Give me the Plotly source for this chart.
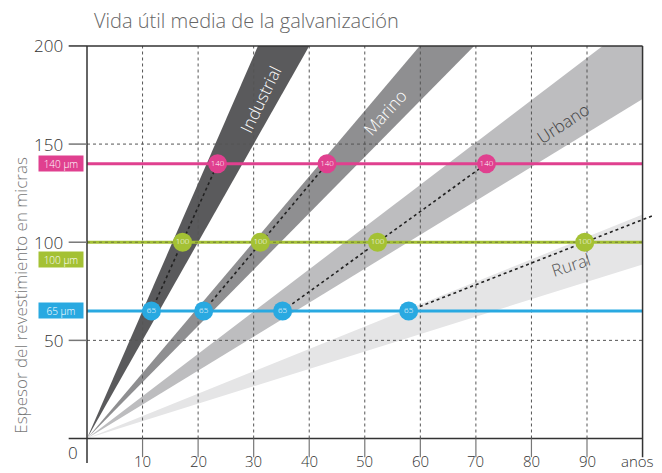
import plotly.graph_objects as go

# ---------------- data ----------------
x_tick_values = [10, 20, 30, 40, 50, 60, 70, 80, 90]
y_tick_values = [50, 100, 150, 200]
x_unit_label = "anos"

thickness = [65, 100, 140]
thickness_labels = ["65 µm", "100 µm", "140 µm"]
thickness_colors = ["#29a9e1", "#a4c134", "#e0408f"]

environments = ["Industrial", "Marino", "Urbano", "Rural"]
rate_low = [5.0, 2.87, 1.73, 0.887]     # lower edge of each band (µm per year)
rate_high = [6.5, 3.34, 2.155, 1.141]   # upper edge of each band (µm per year)
band_colors = ["#5a5a5c", "#8f8f91", "#bdbdbf", "#e5e5e6"]
label_colors = ["#ffffff", "#ffffff", "#444444", "#555555"]

life_65 = [11.6, 21.0, 35.2, 57.9]
life_100 = [17.2, 31.2, 52.3, 89.6]
life_140 = [23.5, 43.2, 71.9, None]

# ---------------- layout constants ----------------
X_MAX, Y_MAX = 100, 200
XR = [-3.6, 103.5]
YR = [-13, 201]
FONT = "Open Sans"
W_LIGHT = 300
label_pos = [(31.2, 172.7, -64), (53.6, 166.1, -48), (85.6, 160.5, -33), (87.2, 88.7, -18)]

fig = go.Figure()


def edge_end(rate):
    x = min(X_MAX, Y_MAX / rate)
    return x, rate * x


# bands
for env, lo, hi, col in zip(environments, rate_low, rate_high, band_colors):
    hx, hy = edge_end(hi)
    lx, ly = edge_end(lo)
    xs, ys = [0, hx], [0, hy]
    if hy >= Y_MAX - 1e-9 and lx >= X_MAX - 1e-9 and ly < Y_MAX:
        xs.append(X_MAX)
        ys.append(Y_MAX)
    xs += [lx, 0]
    ys += [ly, 0]
    fig.add_trace(go.Scatter(x=xs, y=ys, fill="toself", fillcolor=col, mode="lines",
                             line=dict(width=0, color=col), hoverinfo="skip", showlegend=False))

# grid lines
gx, gy = [], []
for v in x_tick_values:
    gx += [v, v, None]
    gy += [0, Y_MAX, None]
for v in y_tick_values[:-1]:
    gx += [0, X_MAX, None]
    gy += [v, v, None]
fig.add_trace(go.Scatter(x=gx, y=gy, mode="lines", line=dict(color="#555555", width=1, dash="3px,3px"),
                         hoverinfo="skip", showlegend=False))

# coloured thickness lines
for t, c in zip(thickness, thickness_colors):
    fig.add_trace(go.Scatter(x=[0, X_MAX], y=[t, t], mode="lines", line=dict(color=c, width=3),
                             hoverinfo="skip", showlegend=False))
# grid dash over the green line
fig.add_trace(go.Scatter(x=[0, X_MAX], y=[100, 100], mode="lines",
                         line=dict(color="#6f7a3a", width=1, dash="3px,3px"),
                         hoverinfo="skip", showlegend=False))

# dashed mean lines inside each band
for i, env in enumerate(environments):
    if life_140[i] is not None:
        xs, ys = [life_65[i], life_140[i]], [65, 140]
    else:
        slope = (100 - 65) / (life_100[i] - life_65[i])
        xe = XR[1]
        xs, ys = [life_65[i], xe], [65, 65 + slope * (xe - life_65[i])]
    fig.add_trace(go.Scatter(x=xs, y=ys, mode="lines", line=dict(color="#222222", width=1.6, dash="3px,3px"),
                             hoverinfo="skip", showlegend=False))

# markers
for t, c, lives in zip(thickness, thickness_colors, [life_65, life_100, life_140]):
    xs = [v for v in lives if v is not None]
    fig.add_trace(go.Scatter(x=xs, y=[t] * len(xs), mode="markers+text",
                             marker=dict(size=19, color=c, line=dict(width=0)),
                             text=[str(t)] * len(xs), textposition="middle center",
                             textfont=dict(color="white", size=8, family=FONT, weight=W_LIGHT),
                             hoverinfo="skip", showlegend=False, cliponaxis=False))

# axes lines and ticks as shapes
ax_col = "#333333"
tick_col = "#777777"
shapes = [
    dict(type="line", xref="x", yref="y", x0=0, x1=0, y0=-12.5, y1=Y_MAX, line=dict(color=ax_col, width=1.5)),
    dict(type="line", xref="x", yref="y", x0=-3.3, x1=X_MAX, y0=0, y1=0, line=dict(color=ax_col, width=1.5)),
    dict(type="line", xref="x", yref="y", x0=0, x1=X_MAX, y0=Y_MAX, y1=Y_MAX, line=dict(color=ax_col, width=1.5)),
    dict(type="line", xref="x", yref="y", x0=X_MAX, x1=X_MAX, y0=-9.5, y1=Y_MAX, line=dict(color=ax_col, width=1.5)),
]
for v in x_tick_values:
    shapes.append(dict(type="line", xref="x", yref="y", x0=v, x1=v, y0=0, y1=-9.5,
                       line=dict(color=tick_col, width=1.2)))
for v in y_tick_values:
    shapes.append(dict(type="line", xref="x", yref="y", x0=-3.3, x1=0, y0=v, y1=v,
                       line=dict(color=tick_col if v != Y_MAX else ax_col, width=1.5)))

annotations = []
# title
annotations.append(dict(text="Vida útil media de la galvanización", xref="paper", yref="paper",
                        x=0, y=1, xshift=25, yshift=24, xanchor="left", yanchor="middle", showarrow=False,
                        font=dict(family=FONT, size=20, color="#666666", weight=W_LIGHT)))
# y axis title
annotations.append(dict(text="Espesor del revestimiento en micras", xref="paper", yref="y",
                        x=0, xshift=-46.5, y=73, textangle=-90, showarrow=False,
                        xanchor="center", yanchor="middle",
                        font=dict(family=FONT, size=17, color="#777777", weight=W_LIGHT)))
# y tick labels
for v in y_tick_values:
    annotations.append(dict(text=str(v), xref="paper", yref="y", x=0, xshift=-2, y=v,
                            xanchor="right", yanchor="middle", showarrow=False,
                            font=dict(family=FONT, size=17, color="#333333", weight=W_LIGHT)))
annotations.append(dict(text="0", xref="x", yref="y", x=-2.6, y=-7, xanchor="center", yanchor="middle",
                        showarrow=False, font=dict(family=FONT, size=17, color="#333333", weight=W_LIGHT)))
# x tick labels
for v in x_tick_values:
    annotations.append(dict(text=str(v), xref="x", yref="paper", x=v, y=0, yshift=3,
                            xanchor="center", yanchor="middle", showarrow=False,
                            font=dict(family=FONT, size=15, color="#333333", weight=W_LIGHT)))
annotations.append(dict(text=x_unit_label, xref="x", yref="paper", x=X_MAX, y=0, yshift=3, xshift=-5,
                        xanchor="center", yanchor="middle", showarrow=False,
                        font=dict(family=FONT, size=15, color="#333333", weight=W_LIGHT)))
# thickness boxes
box_y = {65: 65.3, 100: 91.0, 140: 140.3}
for t, lab, c in zip(thickness, thickness_labels, thickness_colors):
    annotations.append(dict(text=lab, xref="paper", yref="y", x=0, xshift=-6.5, y=box_y[t],
                            xanchor="center", yanchor="middle", showarrow=False,
                            bgcolor=c, width=44, height=15, borderpad=0,
                            font=dict(family=FONT, size=10, color="white", weight=W_LIGHT)))
# band labels
for env, (lx, ly, ang), col in zip(environments, label_pos, label_colors):
    annotations.append(dict(text=env, xref="x", yref="y", x=lx, y=ly, textangle=ang, showarrow=False,
                            xanchor="center", yanchor="middle",
                            font=dict(family=FONT, size=17, color=col, weight=W_LIGHT)))

fig.update_layout(
    width=662, height=473, autosize=False,
    margin=dict(l=58.5, r=7.5, t=36, b=17),
    paper_bgcolor="white", plot_bgcolor="white",
    xaxis=dict(range=XR, visible=False, fixedrange=True),
    yaxis=dict(range=YR, visible=False, fixedrange=True),
    shapes=shapes, annotations=annotations, showlegend=False,
)

fig.write_html("out.html")
